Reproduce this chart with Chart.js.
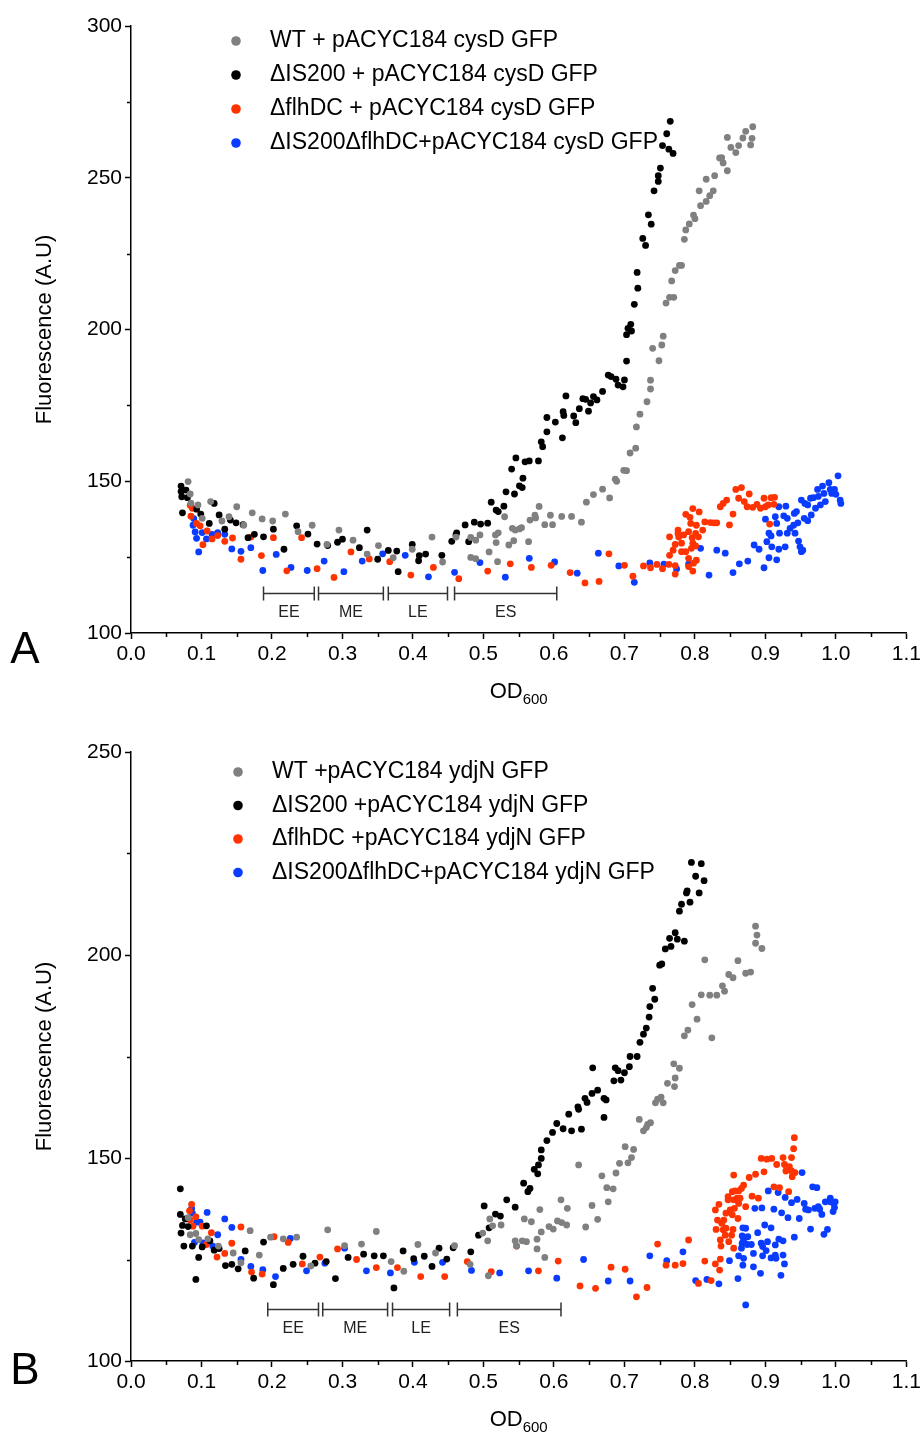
<!DOCTYPE html>
<html>
<head>
<meta charset="utf-8">
<script src="https://cdn.jsdelivr.net/npm/chart.js@4.4.0/dist/chart.umd.min.js"></script>
<style>
  body { margin: 0; background: #fff; }
  .panel { position: absolute; left: 0; width: 924px; }
  #panelA { top: 0; height: 717px; }
  #panelB { top: 717px; height: 718px; }
</style>
</head>
<body>
<div class="panel" id="panelA"><canvas id="chartA" width="924" height="717"></canvas></div>
<div class="panel" id="panelB"><canvas id="chartB" width="924" height="718"></canvas></div>
<script>
const FONT = '"Liberation Sans", Arial, Helvetica, sans-serif';
const COLORS = ["#808080", "#000000", "#ff3300", "#0a3cff"];

const xTicks = [0.0, 0.1, 0.2, 0.3, 0.4, 0.5, 0.6, 0.7, 0.8, 0.9, 1.0, 1.1];

// growth phase brackets (OD600 ranges)
const phaseNames = ["EE", "ME", "LE", "ES"];
const phasesA = [[0.188, 0.260], [0.266, 0.358], [0.365, 0.449], [0.459, 0.604]];
const phasesB = [[0.194, 0.266], [0.272, 0.364], [0.371, 0.452], [0.463, 0.610]];

// Panel A : pACYC184 cysD GFP
const labelsA = [
  "WT + pACYC184 cysD GFP",
  "\u0394IS200 + pACYC184 cysD GFP",
  "\u0394flhDC + pACYC184 cysD GFP",
  "\u0394IS200\u0394flhDC+pACYC184 cysD GFP"
];

const cysdWT = [[0.081,149.9],[0.084,145.8],[0.085,142.8],[0.095,142.2],[0.101,137.8],[0.113,143.3],[0.129,136.9],[0.139,138.3],[0.150,141.6],[0.160,135.5],[0.172,139.6],[0.186,137.6],[0.201,136.9],[0.219,139.2],[0.237,133.4],[0.257,135.5],[0.278,129.2],[0.295,133.9],[0.315,130.6],[0.335,126.0],[0.351,128.8],[0.372,124.8],[0.399,127.6],[0.427,131.6],[0.442,123.4],[0.461,131.6],[0.482,131.5],[0.482,124.9],[0.489,124.5],[0.489,130.6],[0.495,132.3],[0.508,126.7],[0.518,129.8],[0.517,132.3],[0.521,133.0],[0.520,123.5],[0.530,138.3],[0.536,129.0],[0.541,134.5],[0.545,133.9],[0.551,134.3],[0.554,134.7],[0.543,130.4],[0.564,130.1],[0.566,137.2],[0.573,138.8],[0.574,137.9],[0.579,141.7],[0.587,135.7],[0.595,138.8],[0.598,135.7],[0.611,138.4],[0.625,138.4],[0.639,136.5],[0.646,143.1],[0.656,145.6],[0.669,147.4],[0.679,144.5],[0.687,150.7],[0.689,150.0],[0.699,153.6],[0.703,153.5],[0.708,159.3],[0.716,160.9],[0.717,167.9],[0.722,172.1],[0.732,176.2],[0.737,180.4],[0.737,183.3],[0.740,193.8],[0.749,189.7],[0.753,194.9],[0.755,197.8],[0.759,208.7],[0.764,210.6],[0.770,210.6],[0.767,216.0],[0.772,219.4],[0.778,221.1],[0.781,221.1],[0.785,229.7],[0.787,232.8],[0.792,234.8],[0.798,237.7],[0.800,236.5],[0.806,245.7],[0.808,240.8],[0.816,242.2],[0.816,249.5],[0.821,244.1],[0.826,245.7],[0.828,250.7],[0.835,256.5],[0.838,256.6],[0.840,254.9],[0.846,252.3],[0.846,263.3],[0.851,260.0],[0.858,258.3],[0.862,260.6],[0.868,263.1],[0.872,265.3],[0.879,260.8],[0.881,263.0],[0.882,266.8]];

const cysdIS200 = [[0.071,148.4],[0.071,146.6],[0.078,147.1],[0.072,144.9],[0.080,144.6],[0.073,139.6],[0.093,140.8],[0.099,139.2],[0.111,136.1],[0.118,142.7],[0.125,138.9],[0.133,134.2],[0.141,137.2],[0.149,136.3],[0.159,135.7],[0.166,131.4],[0.175,132.5],[0.188,131.7],[0.202,134.2],[0.217,127.6],[0.235,135.3],[0.251,132.6],[0.264,129.3],[0.279,128.8],[0.293,129.9],[0.300,130.9],[0.324,128.1],[0.335,133.9],[0.350,124.3],[0.365,127.2],[0.377,127.0],[0.379,120.2],[0.399,129.2],[0.408,123.8],[0.409,125.5],[0.418,126.0],[0.441,125.6],[0.455,130.2],[0.461,132.3],[0.462,133.0],[0.474,135.6],[0.479,130.1],[0.487,136.5],[0.496,135.9],[0.506,136.2],[0.511,143.1],[0.518,140.5],[0.521,140.0],[0.529,141.8],[0.532,146.5],[0.544,145.8],[0.540,154.0],[0.546,157.7],[0.551,148.5],[0.555,147.9],[0.556,151.0],[0.559,156.4],[0.565,156.7],[0.578,156.7],[0.582,163.0],[0.584,161.4],[0.590,166.3],[0.590,171.0],[0.602,169.5],[0.612,164.3],[0.613,172.9],[0.614,171.7],[0.617,178.1],[0.628,171.5],[0.631,169.3],[0.636,173.9],[0.641,177.2],[0.645,177.0],[0.649,173.1],[0.652,175.8],[0.656,177.9],[0.661,176.8],[0.669,179.6],[0.677,185.0],[0.681,184.5],[0.688,183.6],[0.691,181.7],[0.698,181.1],[0.700,183.4],[0.703,189.6],[0.703,198.3],[0.705,200.4],[0.709,201.7],[0.710,199.5],[0.714,208.3],[0.719,213.6],[0.718,218.8],[0.726,230.0],[0.730,227.7],[0.734,237.8],[0.738,234.7],[0.742,245.7],[0.748,248.8],[0.748,250.7],[0.751,253.2],[0.754,260.6],[0.760,264.5],[0.763,259.4],[0.765,268.6],[0.769,258.0]];

const cysdFlhDC = [[0.084,142.1],[0.087,141.1],[0.085,138.5],[0.093,136.1],[0.098,135.3],[0.102,129.1],[0.108,133.6],[0.115,131.0],[0.123,132.1],[0.133,130.2],[0.144,131.3],[0.156,124.3],[0.170,131.6],[0.185,125.5],[0.202,131.4],[0.221,120.5],[0.242,131.4],[0.264,121.2],[0.288,118.3],[0.312,126.7],[0.338,124.4],[0.367,123.5],[0.397,119.1],[0.429,121.6],[0.465,117.9],[0.506,120.4],[0.538,122.8],[0.568,121.6],[0.596,122.3],[0.623,119.9],[0.644,116.5],[0.664,117.0],[0.678,126.1],[0.700,122.3],[0.712,118.7],[0.727,122.1],[0.737,121.5],[0.746,122.6],[0.754,121.2],[0.763,122.6],[0.772,122.2],[0.772,119.4],[0.764,125.6],[0.769,127.3],[0.772,129.2],[0.777,131.6],[0.764,131.7],[0.781,129.6],[0.776,133.9],[0.776,132.8],[0.784,132.3],[0.787,139.1],[0.791,133.4],[0.793,138.1],[0.797,141.0],[0.794,136.1],[0.796,131.4],[0.801,132.8],[0.802,135.5],[0.805,131.7],[0.806,139.9],[0.781,126.8],[0.787,126.8],[0.795,127.9],[0.801,128.7],[0.791,124.6],[0.797,129.6],[0.802,124.0],[0.798,123.0],[0.791,121.9],[0.797,120.4],[0.811,133.9],[0.814,136.6],[0.822,136.4],[0.827,136.3],[0.831,136.3],[0.836,141.6],[0.840,142.7],[0.845,143.8],[0.849,135.6],[0.854,139.2],[0.858,147.3],[0.866,147.9],[0.862,144.4],[0.870,143.3],[0.877,145.8],[0.874,141.6],[0.882,141.4],[0.888,142.4],[0.893,141.1],[0.898,144.4],[0.900,141.6],[0.904,142.2],[0.908,144.6],[0.912,142.4],[0.913,144.7],[0.906,135.9]];

const cysdDouble = [[0.089,137.7],[0.088,135.5],[0.091,133.3],[0.093,131.2],[0.096,126.7],[0.101,133.1],[0.107,131.0],[0.115,132.5],[0.123,133.1],[0.133,132.5],[0.143,127.7],[0.156,126.9],[0.170,128.1],[0.187,120.6],[0.206,125.9],[0.227,121.6],[0.250,120.6],[0.274,123.7],[0.302,120.2],[0.328,123.7],[0.357,126.1],[0.389,125.6],[0.422,118.5],[0.459,120.0],[0.495,123.2],[0.531,118.4],[0.565,124.6],[0.601,123.4],[0.633,119.7],[0.663,126.3],[0.692,122.1],[0.714,116.7],[0.736,123.1],[0.756,122.7],[0.774,121.1],[0.791,122.7],[0.808,127.9],[0.820,119.1],[0.831,127.3],[0.843,126.3],[0.854,119.9],[0.863,122.8],[0.875,123.7],[0.884,129.0],[0.891,127.6],[0.898,121.5],[0.905,124.8],[0.916,124.1],[0.900,137.5],[0.902,130.1],[0.905,132.9],[0.908,132.0],[0.909,128.4],[0.914,138.3],[0.916,136.1],[0.919,127.6],[0.920,132.9],[0.919,141.6],[0.928,128.4],[0.929,141.8],[0.926,138.6],[0.931,137.8],[0.931,132.9],[0.935,134.5],[0.940,135.5],[0.941,139.4],[0.944,140.0],[0.946,136.3],[0.942,132.9],[0.947,130.3],[0.949,128.4],[0.951,126.8],[0.953,127.3],[0.951,143.8],[0.956,142.7],[0.960,142.2],[0.955,137.8],[0.960,137.0],[0.965,138.9],[0.964,144.4],[0.968,144.6],[0.971,141.1],[0.974,147.3],[0.975,145.0],[0.978,142.2],[0.981,148.4],[0.983,146.0],[0.985,143.3],[0.990,149.5],[0.992,147.3],[0.994,146.0],[0.998,147.3],[1.000,145.7],[1.003,151.8],[1.006,143.8],[1.007,142.7]];

// Panel B : pACYC184 ydjN GFP
const labelsB = [
  "WT +pACYC184 ydjN GFP",
  "\u0394IS200 +pACYC184 ydjN GFP",
  "\u0394flhDC +pACYC184 ydjN GFP",
  "\u0394IS200\u0394flhDC+pACYC184 ydjN GFP"
];

const ydjnWT = [[0.081,135.3],[0.084,131.1],[0.092,131.4],[0.096,129.9],[0.109,130.1],[0.124,128.3],[0.145,126.6],[0.156,124.2],[0.169,132.1],[0.182,126.1],[0.198,130.5],[0.216,130.1],[0.235,130.5],[0.255,123.4],[0.279,132.3],[0.303,128.4],[0.327,128.8],[0.348,131.9],[0.369,124.5],[0.387,122.1],[0.407,128.7],[0.432,126.6],[0.459,128.4],[0.481,123.8],[0.499,131.5],[0.506,129.6],[0.509,135.0],[0.513,133.3],[0.525,133.5],[0.507,121.0],[0.545,129.6],[0.547,128.3],[0.555,129.6],[0.561,129.4],[0.558,135.0],[0.568,134.3],[0.576,130.0],[0.576,127.6],[0.587,125.5],[0.580,137.3],[0.582,131.8],[0.593,133.1],[0.599,132.5],[0.605,134.5],[0.610,139.7],[0.611,134.1],[0.618,133.5],[0.619,137.6],[0.635,148.3],[0.645,133.0],[0.654,138.3],[0.662,134.9],[0.668,145.6],[0.675,142.7],[0.684,142.4],[0.677,139.2],[0.688,146.3],[0.693,148.7],[0.701,152.8],[0.705,148.8],[0.710,150.1],[0.713,152.1],[0.721,159.5],[0.727,156.7],[0.731,157.5],[0.733,158.3],[0.737,158.7],[0.744,163.6],[0.747,164.5],[0.752,165.0],[0.755,163.6],[0.761,168.4],[0.771,167.6],[0.772,169.7],[0.770,173.2],[0.778,172.1],[0.785,180.1],[0.790,181.5],[0.796,187.8],[0.803,184.2],[0.824,179.6],[0.809,190.2],[0.821,190.1],[0.831,190.1],[0.814,198.8],[0.839,192.4],[0.842,191.1],[0.848,195.2],[0.854,194.4],[0.861,198.6],[0.872,195.5],[0.879,195.8],[0.886,207.1],[0.888,204.9],[0.886,202.9],[0.895,201.6]];

const ydjnIS200 = [[0.070,142.4],[0.070,136.1],[0.073,133.4],[0.071,131.5],[0.077,135.0],[0.081,133.1],[0.075,128.3],[0.087,128.3],[0.092,120.1],[0.096,125.5],[0.101,128.1],[0.107,133.3],[0.112,129.6],[0.118,127.3],[0.125,127.7],[0.134,123.5],[0.143,123.8],[0.152,122.7],[0.162,127.1],[0.174,120.4],[0.188,129.3],[0.202,118.8],[0.216,122.8],[0.230,123.8],[0.244,125.8],[0.261,124.1],[0.277,124.5],[0.290,120.3],[0.308,125.5],[0.330,126.3],[0.345,125.9],[0.358,125.9],[0.373,118.0],[0.386,127.1],[0.401,125.2],[0.416,125.8],[0.427,123.3],[0.437,127.8],[0.448,125.1],[0.457,127.9],[0.482,126.9],[0.493,131.0],[0.501,138.2],[0.508,132.8],[0.517,136.2],[0.524,135.7],[0.533,139.7],[0.545,137.9],[0.557,143.8],[0.563,141.7],[0.566,142.5],[0.572,147.2],[0.578,148.3],[0.577,146.1],[0.582,149.9],[0.582,152.0],[0.590,154.3],[0.598,156.3],[0.604,158.5],[0.613,157.2],[0.621,160.8],[0.625,156.7],[0.634,162.6],[0.635,162.0],[0.639,157.1],[0.644,164.7],[0.647,163.7],[0.654,165.9],[0.662,166.7],[0.655,172.2],[0.671,164.7],[0.674,164.3],[0.671,160.0],[0.685,169.0],[0.695,169.2],[0.700,171.0],[0.687,172.2],[0.691,171.5],[0.707,172.5],[0.708,175.0],[0.718,175.0],[0.722,178.5],[0.727,180.5],[0.731,182.0],[0.735,184.7],[0.736,187.3],[0.743,189.1],[0.740,191.8],[0.750,197.5],[0.753,197.8],[0.758,201.5],[0.766,202.1],[0.764,204.1],[0.772,205.5],[0.775,203.9],[0.785,203.4],[0.778,210.8],[0.781,212.5],[0.793,213.0],[0.788,215.3],[0.789,215.8],[0.806,215.3],[0.801,219.4],[0.813,218.3],[0.795,222.8],[0.809,222.5]];

const ydjnFlhDC = [[0.086,138.6],[0.083,137.0],[0.084,134.7],[0.092,135.5],[0.088,133.2],[0.101,133.2],[0.114,131.6],[0.107,128.7],[0.122,125.6],[0.133,126.5],[0.143,129.0],[0.156,133.0],[0.171,121.9],[0.186,121.4],[0.203,130.6],[0.223,129.2],[0.243,123.9],[0.268,125.6],[0.293,127.6],[0.320,125.0],[0.348,123.0],[0.378,123.0],[0.411,120.8],[0.445,120.8],[0.477,124.5],[0.511,122.0],[0.547,128.3],[0.578,122.2],[0.606,124.6],[0.637,118.5],[0.659,117.9],[0.681,123.1],[0.701,122.6],[0.717,115.8],[0.732,118.1],[0.747,128.8],[0.759,123.6],[0.772,123.6],[0.783,124.0],[0.791,129.8],[0.805,119.1],[0.814,124.6],[0.823,119.8],[0.829,123.9],[0.836,125.1],[0.835,122.4],[0.836,129.8],[0.837,128.3],[0.829,137.2],[0.834,138.6],[0.832,134.7],[0.830,132.4],[0.838,133.9],[0.840,132.3],[0.844,132.7],[0.841,134.7],[0.844,136.4],[0.843,131.0],[0.848,129.4],[0.852,131.0],[0.854,132.4],[0.855,127.8],[0.853,136.0],[0.861,135.1],[0.847,139.7],[0.847,140.5],[0.850,137.2],[0.856,137.6],[0.855,139.7],[0.853,141.7],[0.857,141.9],[0.860,140.1],[0.862,141.9],[0.864,140.1],[0.866,142.5],[0.869,143.3],[0.862,138.8],[0.855,145.8],[0.872,138.0],[0.877,145.2],[0.881,140.6],[0.886,146.0],[0.890,140.1],[0.894,149.9],[0.898,146.6],[0.902,149.7],[0.909,149.9],[0.912,142.9],[0.916,148.4],[0.920,142.7],[0.925,150.1],[0.927,148.4],[0.929,146.8],[0.933,141.7],[0.934,147.9],[0.937,150.1],[0.937,146.8],[0.938,145.4],[0.940,152.3],[0.941,155.0],[0.942,146.4]];

const ydjnDouble = [[0.086,137.6],[0.087,136.4],[0.093,134.2],[0.098,134.2],[0.108,136.6],[0.090,129.2],[0.102,129.1],[0.116,128.3],[0.123,131.1],[0.133,135.0],[0.143,132.9],[0.156,125.0],[0.170,123.3],[0.187,122.5],[0.205,120.8],[0.226,130.2],[0.249,122.2],[0.275,124.1],[0.303,127.8],[0.334,122.2],[0.368,121.7],[0.402,124.3],[0.442,124.3],[0.483,122.3],[0.523,121.7],[0.564,122.2],[0.604,120.4],[0.642,125.0],[0.677,119.7],[0.708,119.7],[0.736,125.9],[0.760,124.7],[0.783,126.9],[0.801,119.8],[0.817,120.1],[0.834,119.0],[0.849,124.7],[0.861,120.3],[0.868,123.6],[0.872,113.8],[0.862,125.9],[0.869,125.3],[0.866,127.8],[0.869,129.8],[0.867,130.8],[0.872,132.7],[0.868,132.8],[0.875,130.6],[0.867,129.0],[0.874,128.7],[0.880,128.7],[0.883,126.5],[0.883,123.2],[0.889,131.6],[0.894,129.0],[0.896,128.2],[0.893,121.6],[0.896,125.9],[0.901,127.2],[0.903,129.4],[0.899,133.5],[0.908,132.8],[0.908,125.4],[0.914,126.1],[0.914,128.6],[0.919,130.0],[0.925,129.6],[0.915,125.3],[0.925,126.1],[0.927,123.9],[0.922,121.1],[0.941,130.5],[0.964,132.5],[0.983,131.2],[0.988,132.4],[0.895,137.7],[0.885,137.6],[0.904,141.9],[0.912,137.4],[0.918,141.5],[0.923,136.5],[0.928,140.3],[0.932,135.3],[0.937,139.0],[0.945,139.8],[0.948,135.1],[0.952,146.4],[0.955,138.8],[0.957,137.4],[0.961,137.2],[0.967,142.9],[0.973,142.7],[0.970,137.6],[0.975,138.0],[0.977,137.4],[0.980,136.1],[0.985,139.2],[0.992,140.1],[0.992,139.2],[0.997,138.8],[0.999,139.2],[0.996,136.8],[0.998,137.8]];

// draws minor ticks, legend, phase brackets, axis titles and panel letter
function makeDecor(cfg) {
  return {
    id: "decor",
    afterDraw(chart) {
      const { ctx, chartArea: area, scales: { x, y } } = chart;
      ctx.save();

      // minor ticks
      ctx.strokeStyle = "#000";
      ctx.lineWidth = 1.5;
      ctx.beginPath();
      for (let i = 0; i < xTicks.length - 1; i++) {
        const px = Math.round(x.getPixelForValue((xTicks[i] + xTicks[i + 1]) / 2)) + 0.5;
        ctx.moveTo(px, area.bottom);
        ctx.lineTo(px, area.bottom + 4);
      }
      for (let v = y.min + 25; v < y.max; v += 50) {
        const py = Math.round(y.getPixelForValue(v)) + 0.5;
        ctx.moveTo(area.left - 4, py);
        ctx.lineTo(area.left, py);
      }
      ctx.stroke();

      // growth phase brackets
      ctx.strokeStyle = "#333";
      ctx.lineWidth = 1.5;
      ctx.fillStyle = "#222";
      ctx.font = "16px " + FONT;
      ctx.textAlign = "center";
      ctx.textBaseline = "middle";
      const by = Math.round(y.getPixelForValue(cfg.phaseLevel)) + 0.5;
      cfg.phases.forEach((p, i) => {
        const x0 = x.getPixelForValue(p[0]);
        const x1 = x.getPixelForValue(p[1]);
        ctx.beginPath();
        ctx.moveTo(x0, by); ctx.lineTo(x1, by);
        ctx.moveTo(x0, by - 7); ctx.lineTo(x0, by + 7);
        ctx.moveTo(x1, by - 7); ctx.lineTo(x1, by + 7);
        ctx.stroke();
        ctx.fillText(phaseNames[i], (x0 + x1) / 2, by + 19);
      });

      // legend
      ctx.font = "23px " + FONT;
      ctx.textAlign = "left";
      ctx.fillStyle = "#000";
      cfg.labels.forEach((lab, i) => {
        const ly = area.top + cfg.legendTop + i * cfg.legendGap;
        ctx.fillStyle = COLORS[i];
        ctx.beginPath();
        ctx.arc(area.left + cfg.legendDot, ly, 4.8, 0, Math.PI * 2);
        ctx.fill();
        ctx.fillStyle = "#000";
        ctx.fillText(lab, area.left + cfg.legendText, ly);
      });

      // y title
      ctx.save();
      ctx.translate(45, (area.top + area.bottom) / 2);
      ctx.rotate(-Math.PI / 2);
      ctx.textAlign = "center";
      ctx.font = "22px " + FONT;
      ctx.fillText("Fluorescence (A.U)", 0, 0);
      ctx.restore();

      // x title OD600
      const cx = (area.left + area.right) / 2;
      const base = area.bottom + 65;
      ctx.textBaseline = "alphabetic";
      ctx.font = "22px " + FONT;
      const w1 = ctx.measureText("OD").width;
      ctx.font = "15px " + FONT;
      const w2 = ctx.measureText("600").width;
      const sx = cx - (w1 + w2) / 2;
      ctx.font = "22px " + FONT;
      ctx.fillText("OD", sx, base);
      ctx.font = "15px " + FONT;
      ctx.fillText("600", sx + w1, base + 6);

      // panel letter
      ctx.font = "44px " + FONT;
      ctx.textAlign = "center";
      ctx.fillText(cfg.letter, 25, area.bottom + cfg.letterDy);

      ctx.restore();
    }
  };
}

function buildPanel(canvasId, cfg) {
  const ctx = document.getElementById(canvasId).getContext("2d");
  const tickFont = { family: FONT, size: 21 };
  return new Chart(ctx, {
    type: "scatter",
    data: {
      datasets: cfg.series.map((s, i) => ({
        label: cfg.labels[i],
        data: s.map(p => ({ x: p[0], y: p[1] })),
        backgroundColor: COLORS[i],
        borderWidth: 0,
        pointRadius: 3.4,
        pointHoverRadius: 3.4,
        clip: false
      }))
    },
    options: {
      responsive: false,
      animation: false,
      events: [],
      layout: { padding: { left: 0, right: 16, top: cfg.top, bottom: 0 } },
      plugins: { legend: { display: false }, tooltip: { enabled: false } },
      scales: {
        x: {
          type: "linear",
          min: xTicks[0],
          max: xTicks[xTicks.length - 1],
          afterFit: s => { s.height = cfg.xAxisHeight; },
          afterBuildTicks: s => { s.ticks = xTicks.map(v => ({ value: v })); },
          ticks: { callback: v => v.toFixed(1), font: tickFont, color: "#000", padding: 3, maxRotation: 0, autoSkip: false },
          grid: { drawOnChartArea: false, tickLength: 6, tickColor: "#000", tickWidth: 1.5 },
          border: { color: "#000", width: 1.5 }
        },
        y: {
          type: "linear",
          min: 100,
          max: cfg.yMax,
          afterFit: s => { s.width = 131; },
          ticks: { stepSize: 50, font: tickFont, color: "#000", padding: 3 },
          grid: { drawOnChartArea: false, tickLength: 6, tickColor: "#000", tickWidth: 1.5 },
          border: { color: "#000", width: 1.5 }
        }
      }
    },
    plugins: [makeDecor(cfg)]
  });
}

buildPanel("chartA", {
  series: [cysdWT, cysdIS200, cysdFlhDC, cysdDouble],
  labels: labelsA,
  yMax: 300,
  top: 26,
  xAxisHeight: 84,
  phases: phasesA,
  phaseLevel: 113.2,
  legendTop: 15,
  legendGap: 34,
  legendDot: 105,
  legendText: 139,
  letter: "A",
  letterDy: 30
});

buildPanel("chartB", {
  series: [ydjnWT, ydjnIS200, ydjnFlhDC, ydjnDouble],
  labels: labelsB,
  yMax: 250,
  top: 35,
  xAxisHeight: 74,
  phases: phasesB,
  phaseLevel: 112.8,
  legendTop: 20,
  legendGap: 33.5,
  legendDot: 107,
  legendText: 141,
  letter: "B",
  letterDy: 23
});
</script>
</body>
</html>
